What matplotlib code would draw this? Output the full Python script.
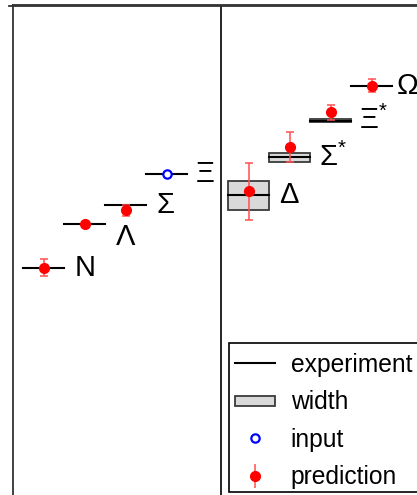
import matplotlib
matplotlib.use("Agg")
import matplotlib.pyplot as plt
from matplotlib.patches import Rectangle, Patch
from matplotlib.lines import Line2D
from matplotlib.legend_handler import HandlerPatch

plt.rcParams['font.family'] = ['Liberation Sans', 'DejaVu Sans']
plt.rcParams['mathtext.fontset'] = 'custom'
plt.rcParams['mathtext.rm'] = 'Liberation Sans'

# baryon octet (left) and decuplet (right)
names = ['N', 'Λ', 'Σ', 'Ξ', 'Δ', 'Σ$^{*}$', 'Ξ$^{*}$', 'Ω']
slots = [1, 2, 3, 4, 6, 7, 8, 9]
exp_mass = [939, 1116, 1193, 1318, 1232, 1385, 1533, 1672]
exp_width = [0, 0, 0, 0, 117, 36, 9.1, 0]
is_input = [False, False, False, True, False, False, False, False]
pred_mass = [938, 1116, 1170, 1318, 1248, 1426, 1566, 1673]
pred_err = [34, 5, 22, 0, 115, 59, 31, 26]
label_shift = [0, -53, 0, 0, 0, 0, 0, 0]
label_gap = [0.76, 0.76, 0.76, 0.70, 0.74, 0.72, 0.70, 0.62]

W, H = 417, 495
fig = plt.figure(figsize=(W / 100, H / 100), dpi=100)
ax = fig.add_axes([13 / W, -5 / H, 436.6 / W, 495 / H])
ax.set_xlim(0.25, 10.9)
ax.set_ylim(0, 2000)
ax.set_xticks([])
ax.set_yticks([])
for side in ['right', 'bottom']:
    ax.spines[side].set_visible(False)
for side in ['left', 'top']:
    ax.spines[side].set_color('#333333')
    ax.spines[side].set_linewidth(1.3)
# separator between octet and decuplet
ax.axvline(5.32, color='black', lw=1.2)

gray_face = '#d9d9d9'
gray_edge = '#3a3a3a'
for x, m, w in zip(slots, exp_mass, exp_width):
    if w > 0:
        ax.add_patch(Rectangle((x - 0.5, m - w / 2), 1.0, w,
                               facecolor=gray_face, edgecolor=gray_edge,
                               lw=1.3, zorder=2))
    ax.plot([x - 0.5, x + 0.5], [m, m], color='black', lw=1.5, zorder=3)

for x, m, e, inp in zip(slots, pred_mass, pred_err, is_input):
    if inp:
        ax.plot(x, m, 'o', mfc='white', mec='blue', ms=6, mew=1.6, zorder=5)
    else:
        ax.errorbar(x, m, yerr=e, fmt='none', ecolor='#ff5050', elinewidth=1.1,
                    capsize=3, capthick=1.1, zorder=4)
        ax.plot(x, m, 'o', color='red', ms=7, zorder=5)

for x, m, s, g, name in zip(slots, exp_mass, label_shift, label_gap, names):
    ax.text(x + g, m + s, name, fontsize=21, va='center', ha='left')

# legend entries
h_exp = Line2D([], [], color='black', lw=1.5)
h_width = Patch(facecolor=gray_face, edgecolor=gray_edge, lw=1.3)
h_input = Line2D([], [], ls='none', marker='o', mfc='white', mec='blue', ms=6, mew=1.6)
h_pred = ax.errorbar([], [], yerr=[], fmt='o', color='red', ecolor='#ff5050',
                     ms=7, capsize=3, elinewidth=1.1)


def thin_box(legend, orig_handle, xdescent, ydescent, width, height, fontsize):
    return Rectangle((-xdescent, -ydescent + height / 2 - 3.5), width, 7)


# legend frame drawn separately so it can run off the right edge
fig.add_artist(Rectangle((229 / W, 1 - 492 / H), 220 / W, 149 / H,
                         transform=fig.transFigure, facecolor='white',
                         edgecolor='black', lw=1.2, zorder=9))

leg = fig.legend([h_exp, h_width, h_input, h_pred],
                 ['experiment', 'width', 'input', 'prediction'],
                 loc='upper left', bbox_to_anchor=(230 / W, 1 - 348 / H),
                 bbox_transform=fig.transFigure, borderaxespad=0,
                 fontsize=17.7, frameon=False, numpoints=1, handlelength=1.65,
                 handletextpad=0.62, labelspacing=0.55, borderpad=0.2,
                 handler_map={Patch: HandlerPatch(patch_func=thin_box)})
leg.set_zorder(10)

# top rule runs slightly past the left spine
fig.add_artist(Line2D([9 / W, 1], [1 - 6 / H, 1 - 6 / H], color='#333333', lw=1.3))

fig.savefig('out.png', dpi=100)
